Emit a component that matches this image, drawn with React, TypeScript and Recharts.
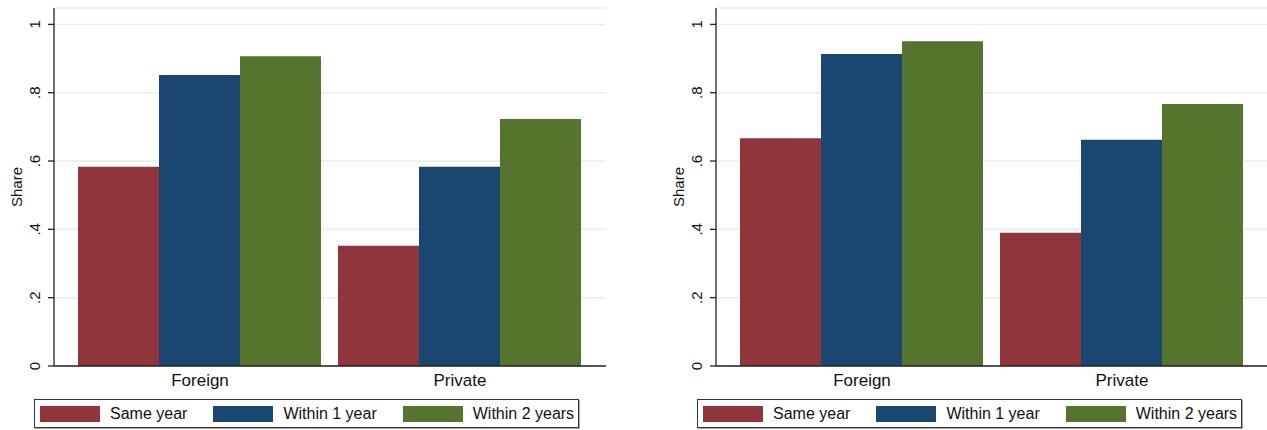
import React from 'react';
import { Bar, BarChart, CartesianGrid, XAxis, YAxis } from 'recharts';

const categories = ['Foreign', 'Private'];
const seriesNames = ['Same year', 'Within 1 year', 'Within 2 years'];
const seriesKeys = ['same', 'within1', 'within2'];
const yTicks = [0, 0.2, 0.4, 0.6, 0.8, 1];

// left panel
const leftSame = [0.583, 0.352];
const leftWithin1 = [0.852, 0.583];
const leftWithin2 = [0.907, 0.723];

// right panel
const rightSame = [0.667, 0.39];
const rightWithin1 = [0.913, 0.662];
const rightWithin2 = [0.951, 0.767];

const COLORS = ['#90353b', '#1a476f', '#55752f'];
const FONT = '"Liberation Sans", Arial, Helvetica, sans-serif';
const AXIS = '#222';

const buildRows = (a: number[], b: number[], c: number[]) =>
  categories.map((name, i) => ({ name, same: a[i], within1: b[i], within2: c[i] }));

const fmtTick = (v: number) => (v === 0 ? '0' : v === 1 ? '1' : String(v).replace(/^0/, ''));

const YTick = ({ x, y, payload }: any) => (
  <text
    x={x - 6}
    y={y}
    transform={`rotate(-90, ${x - 6}, ${y})`}
    textAnchor="middle"
    fontSize={15}
    fontFamily={FONT}
    fill="#111"
  >
    {fmtTick(payload.value)}
  </text>
);

const XTick = ({ x, y, payload }: any) => (
  <text x={x} y={y + 18} textAnchor="middle" fontSize={17} fontFamily={FONT} fill="#111">
    {payload.value}
  </text>
);

const YTitle = ({ viewBox }: any) => {
  const bx = viewBox.x + 22;
  const by = viewBox.y + viewBox.height / 2;
  return (
    <text
      x={bx}
      y={by}
      transform={`rotate(-90, ${bx}, ${by})`}
      textAnchor="middle"
      fontSize={15}
      fontFamily={FONT}
      fill="#111"
    >
      Share
    </text>
  );
};

const LegendBox = ({ left }: { left: number }) => (
  <div style={{
    position: 'absolute', left, top: 399, width: 545, height: 29,
    boxSizing: 'border-box', border: '1px solid #333',
    boxShadow: '1px 1px 0 #aaa', background: '#fff',
    display: 'flex', alignItems: 'center', paddingLeft: 5,
    fontFamily: FONT, fontSize: 16, color: '#111', whiteSpace: 'nowrap',
  }}>
    {seriesNames.map((n, i) => (
      <div key={n} style={{ display: 'flex', alignItems: 'center', marginRight: 26, flexShrink: 0 }}>
        <div style={{ width: 60, height: 16, background: COLORS[i], marginRight: 10, flexShrink: 0 }} />
        <span>{n}</span>
      </div>
    ))}
  </div>
);

const Panel = ({ data, left }: { data: any[]; left: number }) => (
  <div style={{ position: 'absolute', left, top: 0 }}>
    <BarChart
      width={620}
      height={430}
      data={data}
      margin={{ top: 8, right: 14, left: 0, bottom: 34 }}
      barCategoryGap={8}
      barGap={0}
    >
      <CartesianGrid vertical={false} stroke="#e6eef0" strokeWidth={1.5} />
      <XAxis
        dataKey="name"
        padding={{ left: 16, right: 16 }}
        height={30}
        tickLine={false}
        tickSize={0}
        tick={<XTick />}
        axisLine={{ stroke: AXIS, strokeWidth: 1.3 }}
      />
      <YAxis
        width={54}
        domain={[0, 1.048]}
        ticks={yTicks}
        tickSize={6}
        tickMargin={2}
        tick={<YTick />}
        tickLine={{ stroke: AXIS, strokeWidth: 1.3 }}
        axisLine={{ stroke: AXIS, strokeWidth: 1.3 }}
        label={<YTitle />}
      />
      {seriesKeys.map((k, i) => (
        <Bar key={k} dataKey={k} name={seriesNames[i]} fill={COLORS[i]} isAnimationActive={false} />
      ))}
    </BarChart>
  </div>
);

export default function App() {
  const leftData = buildRows(leftSame, leftWithin1, leftWithin2);
  const rightData = buildRows(rightSame, rightWithin1, rightWithin2);
  return (
    <div style={{
      position: 'absolute', left: 0, top: 0, width: 1267, height: 430,
      overflow: 'hidden', background: '#fff',
    }}>
      <Panel data={leftData} left={0} />
      <Panel data={rightData} left={662} />
      <LegendBox left={34} />
      <LegendBox left={697} />
    </div>
  );
}
